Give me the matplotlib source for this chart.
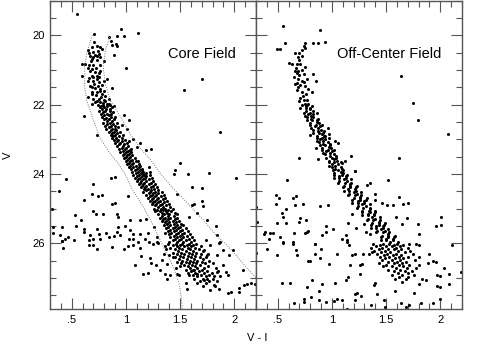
import matplotlib
matplotlib.use("Agg")
import matplotlib.pyplot as plt
from matplotlib.ticker import MultipleLocator, FixedFormatter, FixedLocator

plt.rcParams['font.family'] = ['Liberation Sans', 'DejaVu Sans']

# ---- core field: scattered stars (V-I, V) ----
core_sparse = [
    (0.55, 19.38), (0.955, 19.83), (1.11, 19.93), (0.98, 20.01), (0.92, 20.03), (0.71, 19.97),
    (0.84, 20.06), (0.86, 20.15), (0.87, 20.28), (0.91, 20.25), (0.92, 20.32), (0.89, 20.56),
    (1.00, 20.93), (1.70, 21.26), (1.54, 21.59),
    # upper sequence
    (0.655, 20.42), (0.686, 20.34), (0.732, 20.30), (0.763, 20.33), (0.778, 20.39), (0.70, 20.49),
    (0.67, 20.59), (0.717, 20.57), (0.748, 20.54), (0.686, 20.68), (0.732, 20.71), (0.624, 20.83),
    (0.593, 20.83), (0.664, 20.87), (0.70, 20.87), (0.763, 20.85), (0.794, 20.73), (0.67, 21.02),
    (0.717, 21.07), (0.686, 21.16), (0.732, 21.16), (0.763, 21.02), (0.593, 21.16), (0.655, 21.31),
    (0.70, 21.31), (0.748, 21.35), (0.794, 21.31), (0.825, 21.26), (0.871, 21.52), (0.67, 21.45),
    (0.717, 21.52), (0.763, 21.55), (0.686, 21.64), (0.732, 21.64), (0.778, 21.69), (0.81, 21.74),
    (0.655, 21.79), (0.70, 21.83), (0.748, 21.83), (0.794, 21.86), (0.84, 21.83), (0.717, 21.93),
    (0.763, 21.93), (0.686, 21.98), (0.825, 21.98),
    (0.70, 20.62), (0.74, 20.45), (0.72, 20.95), (0.69, 20.98), (0.75, 21.10), (0.66, 21.22),
    (0.71, 21.40), (0.74, 21.45), (0.78, 21.42), (0.69, 21.50), (0.76, 21.60), (0.72, 21.72),
    (0.80, 21.60), (0.77, 21.77), (0.73, 21.90), (0.79, 21.95), (0.68, 20.75), (0.65, 20.95),
    (0.76, 20.62), (0.71, 20.20), (0.735, 20.60), (0.70, 21.20), (0.73, 21.25), (0.69, 21.68),
    (0.81, 21.90), (0.755, 21.20), (0.66, 20.50),
    # V 22-24 outliers
    (0.61, 22.34), (0.73, 22.87), (1.87, 22.79), (1.50, 23.69), (1.45, 23.90), (1.57, 24.01),
    (1.77, 23.96), (0.98, 22.31), (1.03, 22.43), (1.13, 23.11), (1.19, 23.32), (1.23, 23.29),
    (1.21, 23.80), (1.22, 23.95), (0.85, 22.12), (0.89, 22.04), (0.84, 21.99), (0.96, 22.60),
    (1.01, 22.70), (1.07, 22.99), (1.03, 23.04), (1.10, 23.23), (1.04, 23.32), (1.11, 23.64),
    (1.13, 23.76), (1.15, 23.90), (1.16, 24.01),
    # V 24-26 field stars
    (0.45, 24.14), (0.38, 24.48), (0.315, 25.00), (0.70, 24.30), (0.69, 24.57), (0.78, 24.60),
    (0.74, 24.65), (0.61, 24.76), (0.87, 24.88), (0.90, 24.84), (0.70, 25.07), (0.72, 25.17),
    (0.79, 25.17), (0.92, 25.15), (0.93, 25.24), (0.53, 25.18), (0.59, 25.34), (0.41, 25.53),
    (0.33, 25.53), (0.325, 25.71), (0.39, 25.77), (0.44, 25.87), (0.47, 25.82), (0.52, 25.92),
    (0.41, 25.94), (0.54, 25.51), (0.61, 25.58), (0.61, 25.68), (0.67, 25.77), (0.70, 25.87),
    (0.66, 25.92), (0.73, 25.59), (0.75, 25.73), (0.76, 25.87), (0.82, 25.71), (0.84, 25.82),
    (0.89, 25.78), (0.93, 25.53), (0.92, 25.68), (0.95, 25.77), (0.99, 25.49), (1.04, 25.34),
    (1.02, 24.65), (0.86, 24.11), (0.90, 24.09), (1.04, 25.63), (1.07, 25.73), (1.03, 25.87),
    (1.07, 25.87), (1.13, 25.32), (1.19, 25.29), (1.13, 25.73), (1.20, 25.70), (1.18, 25.87),
    (1.21, 25.97), (1.11, 25.97), (1.29, 25.97), (1.29, 25.82), (1.26, 25.53),
    (1.44, 24.00), (2.02, 24.12), (1.61, 24.38), (1.70, 24.40), (1.47, 24.57),
    (1.61, 24.91), (1.63, 24.86), (1.70, 24.79), (1.71, 24.94), (1.66, 25.13), (1.75, 25.34),
    (1.83, 25.49), (1.58, 25.23), (1.84, 25.77), (1.87, 25.97), (1.74, 25.92),
    # V > 26
    (0.42, 26.13), (0.41, 25.94), (0.66, 26.06), (0.70, 26.06), (0.73, 26.16), (0.87, 26.11),
    (0.98, 26.18), (1.02, 26.08), (1.07, 26.04), (1.13, 26.13), (1.14, 26.38), (1.08, 26.64),
    (1.16, 26.88), (1.20, 26.85), (1.22, 26.44), (1.23, 26.57), (1.25, 26.01), (1.30, 25.99),
    (1.28, 26.64), (1.31, 26.78), (1.36, 26.88), (1.38, 27.02), (1.41, 26.92), (1.33, 26.49),
    (1.35, 26.30), (1.40, 26.35), (1.43, 26.40), (1.38, 26.59), (1.46, 26.73), (1.47, 26.88),
    (1.49, 26.92), (1.55, 27.15), (1.56, 27.31), (1.58, 26.92), (1.63, 26.78), (1.66, 26.88),
    (1.72, 27.07), (1.75, 27.02), (1.81, 26.95), (1.78, 27.36), (1.86, 27.31), (1.81, 27.21),
    (1.94, 27.45), (1.97, 27.41), (2.04, 27.29), (2.04, 27.41), (2.09, 27.21), (2.12, 27.17),
    (2.15, 27.15), (2.19, 27.19), (2.08, 26.76), (1.92, 26.83), (1.94, 26.92), (1.90, 26.64),
    (1.84, 26.83), (1.84, 26.33), (1.95, 26.35), (1.99, 26.20), (1.90, 26.20), (1.75, 26.35),
    (1.78, 26.06), (1.86, 25.99), (1.72, 26.20),
]

# dense main sequence of the core field, V: [V-I ...]
core_ms = {
    22.00: [0.74, 0.79, 0.85], 22.04: [0.77, 0.83], 22.08: [0.80, 0.76, 0.87], 22.13: [0.78, 0.82],
    22.17: [0.75, 0.81, 0.85], 22.21: [0.79, 0.88], 22.26: [0.77, 0.83, 0.86], 22.31: [0.80, 0.84],
    22.35: [0.78, 0.86, 0.90], 22.38: [0.82], 22.42: [0.80, 0.84, 0.89], 22.47: [0.83, 0.87],
    22.52: [0.79, 0.85, 0.92], 22.56: [0.83, 0.88], 22.61: [0.86, 0.81, 0.90], 22.66: [0.84, 0.93],
    22.70: [0.82, 0.87, 0.90], 22.74: [0.86, 0.91], 22.79: [0.84, 0.89, 0.95], 22.83: [0.87, 0.92],
    22.88: [0.90, 0.86, 0.97], 22.92: [0.88, 0.94], 22.97: [0.91, 0.87, 0.96],
    23.02: [0.93, 0.89, 0.99], 23.06: [0.92, 0.96], 23.11: [0.90, 0.95, 1.01], 23.15: [0.94, 0.98],
    23.19: [0.92, 0.97, 1.02], 23.24: [0.96, 1.00], 23.29: [0.94, 0.99, 1.05], 23.33: [0.97, 1.02],
    23.37: [1.00, 0.95, 1.05], 23.42: [0.98, 1.03], 23.46: [1.01, 0.97, 1.06], 23.51: [1.00, 1.04],
    23.55: [0.98, 1.03, 1.08], 23.59: [1.01, 1.06], 23.63: [1.04, 1.00, 1.09], 23.68: [1.03, 1.07],
    23.72: [1.01, 1.06, 1.12], 23.76: [1.04, 1.09], 23.81: [1.07, 1.03, 1.12],
    23.85: [1.05, 1.10, 1.15], 23.89: [1.08, 1.13], 23.94: [1.06, 1.11, 1.16],
    23.98: [1.09, 1.14, 1.19],
    24.03: [1.07, 1.12, 1.17, 1.22], 24.07: [1.10, 1.15, 1.19], 24.12: [1.08, 1.13, 1.18, 1.24],
    24.16: [1.11, 1.16, 1.21], 24.21: [1.14, 1.10, 1.19, 1.25], 24.25: [1.13, 1.17, 1.23],
    24.30: [1.16, 1.12, 1.21, 1.27], 24.34: [1.15, 1.19, 1.25], 24.38: [1.18, 1.14, 1.23, 1.29],
    24.43: [1.20, 1.17, 1.26], 24.47: [1.19, 1.23, 1.30], 24.52: [1.16, 1.22, 1.27, 1.33],
    24.56: [1.21, 1.25, 1.30], 24.60: [1.19, 1.24, 1.28, 1.35], 24.65: [1.22, 1.27, 1.32],
    24.69: [1.25, 1.20, 1.30, 1.36], 24.73: [1.24, 1.29, 1.34], 24.78: [1.27, 1.22, 1.31, 1.38],
    24.82: [1.25, 1.30, 1.35], 24.86: [1.28, 1.33, 1.24, 1.40], 24.91: [1.27, 1.31, 1.37],
    24.95: [1.30, 1.34, 1.41], 25.00: [1.26, 1.32, 1.36, 1.43], 25.04: [1.29, 1.34, 1.39],
    25.08: [1.31, 1.37, 1.42, 1.27], 25.13: [1.33, 1.38, 1.45], 25.17: [1.30, 1.35, 1.40, 1.47],
    25.22: [1.33, 1.39, 1.44], 25.26: [1.36, 1.41, 1.47, 1.31], 25.30: [1.34, 1.39, 1.45],
    25.35: [1.37, 1.43, 1.49, 1.33], 25.39: [1.40, 1.46, 1.36], 25.44: [1.38, 1.44, 1.51],
    25.48: [1.35, 1.41, 1.47, 1.53], 25.52: [1.39, 1.45, 1.50], 25.57: [1.37, 1.43, 1.48, 1.55],
    25.61: [1.41, 1.46, 1.52], 25.65: [1.39, 1.44, 1.50, 1.57], 25.70: [1.42, 1.48, 1.54, 1.36],
    25.74: [1.40, 1.46, 1.52, 1.59], 25.78: [1.44, 1.50, 1.56], 25.83: [1.41, 1.47, 1.53, 1.61],
    25.87: [1.45, 1.51, 1.58], 25.92: [1.43, 1.49, 1.55, 1.63], 25.96: [1.47, 1.53, 1.60, 1.40],
    26.01: [1.39, 1.46, 1.52, 1.58, 1.65], 26.05: [1.43, 1.50, 1.56, 1.62],
    26.09: [1.36, 1.47, 1.54, 1.60, 1.69], 26.14: [1.41, 1.49, 1.57, 1.64],
    26.18: [1.45, 1.52, 1.59, 1.67, 1.37], 26.23: [1.48, 1.55, 1.62, 1.71],
    26.27: [1.43, 1.51, 1.58, 1.65], 26.32: [1.47, 1.54, 1.61, 1.69, 1.76],
    26.36: [1.50, 1.57, 1.64], 26.41: [1.45, 1.53, 1.60, 1.68, 1.74],
    26.45: [1.49, 1.56, 1.63, 1.71], 26.50: [1.52, 1.59, 1.66, 1.77],
    26.54: [1.47, 1.55, 1.62, 1.70], 26.58: [1.51, 1.58, 1.65, 1.73, 1.80],
    26.63: [1.54, 1.61, 1.68], 26.67: [1.50, 1.57, 1.64, 1.76], 26.72: [1.59, 1.66, 1.72, 1.83],
    26.77: [1.55, 1.62, 1.70], 26.81: [1.60, 1.67, 1.75, 1.85], 26.86: [1.57, 1.64, 1.72, 1.79],
    26.91: [1.62, 1.69, 1.77], 26.96: [1.66, 1.74, 1.87], 27.02: [1.63, 1.71, 1.80],
    27.08: [1.68, 1.77, 1.84], 27.15: [1.66, 1.74], 27.23: [1.71, 1.82],
}

# fiducial envelope (dotted) in the core panel
blue_edge_vi = [0.69, 0.66, 0.64, 0.62, 0.62, 0.64, 0.70, 0.76, 0.84, 0.93, 1.00, 1.06, 1.15, 1.23,
                1.30, 1.36, 1.44, 1.49, 1.51, 1.52]
blue_edge_v = [20.0, 20.3, 20.5, 20.9, 21.5, 21.9, 22.45, 22.95, 23.35, 23.7, 24.05, 24.45, 24.9,
               25.35, 25.8, 26.2, 26.7, 27.15, 27.55, 27.9]
red_edge_vi = [0.85, 0.81, 0.79, 0.81, 0.86, 0.95, 1.04, 1.13, 1.23, 1.32, 1.43, 1.57, 1.72, 1.84,
               1.93, 2.03, 2.12, 2.20]
red_edge_v = [20.05, 20.45, 20.9, 21.4, 21.9, 22.35, 22.85, 23.25, 23.6, 24.0, 24.4, 24.85, 25.35,
              25.8, 26.05, 26.4, 26.73, 27.0]

# ---- off-center field ----
off_sparse = [
    (0.55, 19.73), (0.89, 19.84), (0.94, 20.18), (0.83, 20.22), (0.87, 20.23), (0.57, 20.23),
    (0.49, 20.39), (0.52, 20.40), (0.75, 20.22), (0.74, 20.30), (0.75, 20.36), (0.72, 20.42),
    (0.66, 20.51), (0.70, 20.52), (0.69, 20.63), (0.72, 20.59), (0.60, 20.80), (0.63, 20.84),
    (0.68, 20.83), (0.71, 20.83), (0.75, 20.90), (0.66, 21.02), (0.69, 21.04), (0.68, 21.09),
    (0.74, 21.11), (0.83, 21.11), (0.65, 21.21), (0.69, 21.26), (0.72, 21.31), (0.77, 21.26),
    (0.85, 21.32), (0.68, 21.38), (0.71, 21.42), (0.75, 21.45), (0.78, 21.55), (0.68, 21.59),
    (0.72, 21.64), (0.82, 21.64), (0.71, 21.81), (0.74, 21.88), (0.77, 21.86), (0.75, 21.98),
    (0.78, 21.98), (1.64, 21.18), (1.75, 21.96),
    (0.70, 20.70), (0.67, 20.95), (0.72, 21.00), (0.70, 21.15), (0.74, 21.35), (0.69, 21.48),
    (0.76, 21.70), (0.73, 21.75), (0.70, 21.90), (0.66, 21.40),
    (1.79, 22.43), (2.07, 22.86), (1.62, 23.53), (0.70, 23.54), (0.87, 23.56), (1.18, 23.47),
    (1.21, 23.92), (1.12, 23.63), (1.09, 23.68), (0.96, 22.68), (0.97, 22.84), (0.93, 22.92),
    (1.03, 23.06), (1.06, 23.10), (0.80, 22.87), (0.85, 23.26),
    (0.59, 24.19), (0.30, 24.96), (0.31, 25.39), (0.48, 24.62), (0.51, 24.70), (0.48, 24.86),
    (0.64, 24.69), (0.67, 24.65), (0.66, 24.89), (0.73, 24.88), (0.54, 25.12), (0.58, 25.02),
    (0.55, 25.24), (0.49, 25.41), (0.58, 25.42), (0.71, 25.26), (0.70, 25.39), (0.76, 25.32),
    (0.38, 25.68), (0.43, 25.71), (0.46, 25.71), (0.37, 25.73), (0.42, 25.89), (0.52, 25.82),
    (0.55, 25.97), (0.64, 25.97), (0.65, 25.71), (0.75, 25.71), (0.78, 25.65), (0.77, 25.68),
    (0.84, 26.01), (0.89, 24.94), (0.96, 24.89), (0.95, 25.51), (0.95, 25.68), (0.91, 25.77),
    (1.01, 25.60), (1.09, 25.87), (1.13, 25.77), (1.14, 25.92), (1.15, 25.42), (1.19, 25.15),
    (1.22, 25.55), (1.30, 25.44), (1.31, 25.68), (1.35, 25.73), (1.52, 24.19), (1.62, 24.67),
    (1.66, 24.86), (1.70, 24.83), (1.51, 24.91), (1.56, 24.89), (1.59, 25.24), (1.69, 25.27),
    (1.65, 25.44), (1.79, 25.44), (1.80, 25.73), (1.96, 25.50), (2.01, 25.47), (2.01, 25.23),
    (1.71, 26.01), (1.78, 26.01), (1.21, 23.93), (1.35, 24.26), (1.32, 24.33), (1.40, 24.57),
    (1.46, 24.83), (1.40, 24.76),
    (0.30, 26.27), (0.40, 26.18), (0.49, 26.35), (0.55, 25.99), (0.64, 26.01), (0.67, 26.20),
    (0.68, 26.35), (0.84, 26.03), (0.90, 26.16), (0.84, 26.30), (0.89, 26.42), (0.78, 26.52),
    (0.80, 26.52), (0.97, 26.61), (1.05, 26.30), (1.14, 25.96), (1.16, 26.06), (1.19, 26.35),
    (1.21, 26.30), (1.17, 26.64), (1.15, 26.97), (1.13, 27.07), (1.03, 27.16), (0.91, 27.19),
    (0.82, 27.05), (0.77, 27.26), (0.54, 27.16), (0.61, 27.16), (0.88, 27.39), (0.88, 27.65),
    (0.81, 27.55), (0.74, 27.60), (0.74, 27.69), (0.65, 27.72), (0.95, 27.69), (1.02, 27.66),
    (1.05, 27.60), (1.09, 27.63), (1.14, 27.89), (1.21, 27.48), (1.23, 27.45), (1.27, 27.53),
    (1.21, 27.65), (1.26, 26.88), (1.28, 26.61), (1.26, 26.64), (1.29, 26.30), (1.34, 26.30),
    (1.37, 26.25), (1.42, 27.48), (1.36, 27.79), (1.39, 27.21), (1.40, 27.16), (1.48, 27.65),
    (1.49, 27.84), (1.58, 27.38), (1.64, 27.74), (1.68, 27.84), (1.71, 27.79), (1.76, 27.45),
    (1.80, 27.19), (1.82, 27.74), (1.83, 27.02), (1.87, 27.05), (1.93, 27.74), (1.97, 27.24),
    (2.00, 27.26), (2.08, 27.18), (2.08, 26.88), (1.97, 26.92), (2.00, 26.95), (2.03, 26.73),
    (1.96, 26.54), (1.93, 26.51), (1.89, 26.57), (1.90, 26.30), (1.80, 26.40), (1.80, 26.06),
    (2.11, 26.06), (2.19, 26.83), (2.00, 27.60), (1.80, 26.64),
]

off_ms = {
    22.00: [0.72, 0.77], 22.05: [0.76, 0.82], 22.09: [0.71, 0.76, 0.80], 22.14: [0.80],
    22.18: [0.76, 0.83], 22.23: [0.74, 0.80, 0.86], 22.27: [0.78, 0.83], 22.32: [0.81, 0.75],
    22.36: [0.77, 0.83], 22.41: [0.81, 0.87], 22.45: [0.77, 0.82, 0.86], 22.50: [0.86],
    22.54: [0.80, 0.88], 22.59: [0.80, 0.85, 0.91], 22.63: [0.84, 0.89], 22.68: [0.87, 0.81],
    22.72: [0.83, 0.90], 22.77: [0.87, 0.93], 22.81: [0.83, 0.88, 0.92], 22.86: [0.91],
    22.90: [0.86, 0.94], 22.95: [0.86, 0.91, 0.97], 22.99: [0.89, 0.94], 23.04: [0.92, 0.86],
    23.08: [0.88, 0.96], 23.13: [0.92, 0.98], 23.17: [0.89, 0.94, 0.98], 23.22: [0.97],
    23.26: [0.91, 0.99], 23.31: [0.91, 0.96, 1.02], 23.35: [0.95, 1.00], 23.40: [0.98, 0.92],
    23.44: [0.94, 1.02], 23.49: [0.98, 1.04], 23.53: [0.95, 1.00, 1.04], 23.58: [1.02],
    23.62: [0.97, 1.05], 23.67: [0.97, 1.02, 1.08], 23.71: [1.00, 1.06], 23.76: [1.03, 0.97],
    23.80: [1.00, 1.08], 23.85: [1.03, 1.09], 23.89: [1.01, 1.06, 1.10], 23.94: [1.08],
    23.98: [1.02, 1.10],
    24.03: [1.02, 1.09, 1.14], 24.07: [1.07, 1.13], 24.12: [1.02, 1.07, 1.13], 24.16: [1.11, 1.18],
    24.21: [1.07, 1.14], 24.25: [1.12, 1.18, 1.06], 24.30: [1.17], 24.34: [1.11, 1.17, 1.23],
    24.39: [1.10, 1.17, 1.22], 24.43: [1.15, 1.21], 24.48: [1.11, 1.16, 1.22], 24.52: [1.20, 1.27],
    24.57: [1.16, 1.23], 24.61: [1.21, 1.27, 1.15], 24.66: [1.26], 24.70: [1.20, 1.26, 1.32],
    24.75: [1.19, 1.26, 1.31], 24.79: [1.24, 1.30], 24.84: [1.19, 1.24, 1.30], 24.88: [1.28, 1.35],
    24.93: [1.24, 1.31], 24.97: [1.29, 1.35, 1.23], 25.02: [1.35], 25.06: [1.28, 1.34, 1.40],
    25.11: [1.28, 1.35, 1.40], 25.15: [1.33, 1.39], 25.20: [1.28, 1.33, 1.39], 25.24: [1.37, 1.44],
    25.29: [1.33, 1.40], 25.33: [1.38, 1.44, 1.32], 25.38: [1.43], 25.42: [1.37, 1.43, 1.49],
    25.47: [1.36, 1.43, 1.48], 25.51: [1.41, 1.47], 25.56: [1.36, 1.41, 1.47], 25.60: [1.45, 1.52],
    25.65: [1.42, 1.49], 25.69: [1.47, 1.53, 1.41], 25.74: [1.52], 25.78: [1.46, 1.52, 1.58],
    25.83: [1.45, 1.52, 1.57], 25.87: [1.50, 1.56], 25.92: [1.45, 1.50, 1.56], 25.96: [1.54, 1.61],
    26.01: [1.38, 1.47, 1.53, 1.60], 26.04: [1.44, 1.57, 1.66], 26.08: [1.41, 1.50, 1.55, 1.63],
    26.13: [1.36, 1.46, 1.59, 1.70], 26.17: [1.43, 1.52, 1.57, 1.64],
    26.22: [1.39, 1.49, 1.61, 1.72], 26.26: [1.45, 1.54, 1.67], 26.31: [1.42, 1.51, 1.59, 1.75],
    26.35: [1.48, 1.56, 1.64], 26.40: [1.44, 1.53, 1.62, 1.70], 26.44: [1.58, 1.66, 1.49],
    26.49: [1.46, 1.55, 1.63, 1.77], 26.53: [1.52, 1.60, 1.68], 26.58: [1.43, 1.57, 1.65],
    26.62: [1.50, 1.62, 1.71], 26.67: [1.55, 1.66, 1.47], 26.71: [1.59, 1.69, 1.78],
    26.76: [1.52, 1.63], 26.81: [1.57, 1.67, 1.74], 26.86: [1.61, 1.70], 26.92: [1.55, 1.65, 1.76],
    26.98: [1.62, 1.70], 27.04: [1.58, 1.68], 27.11: [1.65],
}

x_ticks = [0.5, 1.0, 1.5, 2.0]
x_tick_labels = ['.5', '1', '1.5', '2']
y_ticks = [20, 22, 24, 26]
y_tick_labels = ['20', '22', '24', '26']


def expand(sparse, rows):
    xs = [p[0] for p in sparse]
    ys = [p[1] for p in sparse]
    for v, cols in rows.items():
        for c in cols:
            xs.append(c)
            ys.append(v)
    return xs, ys


fig = plt.figure(figsize=(4.85, 3.46), dpi=100)
ax1 = fig.add_axes([50 / 485, 1 - 309 / 346, 206 / 485, 309 / 346 - 0.002])
ax2 = fig.add_axes([256 / 485, 1 - 309 / 346, 206 / 485, 309 / 346 - 0.002])

spine_col = '#555555'
for ax, sparse, rows, title in [(ax1, core_sparse, core_ms, 'Core Field'),
                                (ax2, off_sparse, off_ms, 'Off-Center Field')]:
    xs, ys = expand(sparse, rows)
    ax.plot(xs, ys, 'o', color='black', ms=2.2, mew=0)
    ax.set_xlim(0.3, 2.2)
    ax.set_ylim(27.9, 19.0)
    ax.xaxis.set_major_locator(FixedLocator(x_ticks))
    ax.xaxis.set_major_formatter(FixedFormatter(x_tick_labels))
    ax.xaxis.set_minor_locator(MultipleLocator(0.1))
    ax.yaxis.set_major_locator(FixedLocator(y_ticks))
    ax.yaxis.set_major_formatter(FixedFormatter(y_tick_labels))
    ax.yaxis.set_minor_locator(MultipleLocator(0.5))
    ax.tick_params(which='both', direction='in', top=True, right=True, color=spine_col,
                   labelsize=8, width=0.8)
    ax.tick_params(which='major', length=8, pad=4)
    ax.tick_params(which='minor', length=4)
    for s in ax.spines.values():
        s.set_color(spine_col)
        s.set_linewidth(1.0)
    ax.text(2.01, 20.53, title, ha='right', va='center', fontsize=10.5)

ax1.plot(blue_edge_vi, blue_edge_v, color='0.45', lw=0.7, ls=(0, (1, 1.5)))
ax1.plot(red_edge_vi, red_edge_v, color='0.45', lw=0.7, ls=(0, (1, 1.5)))
ax2.tick_params(labelleft=False)
ax1.set_ylabel('V', fontsize=8, labelpad=14)
fig.text(257 / 485, 0.022, 'V - I', ha='center', va='center', fontsize=8)

fig.savefig('out.png', dpi=100)
